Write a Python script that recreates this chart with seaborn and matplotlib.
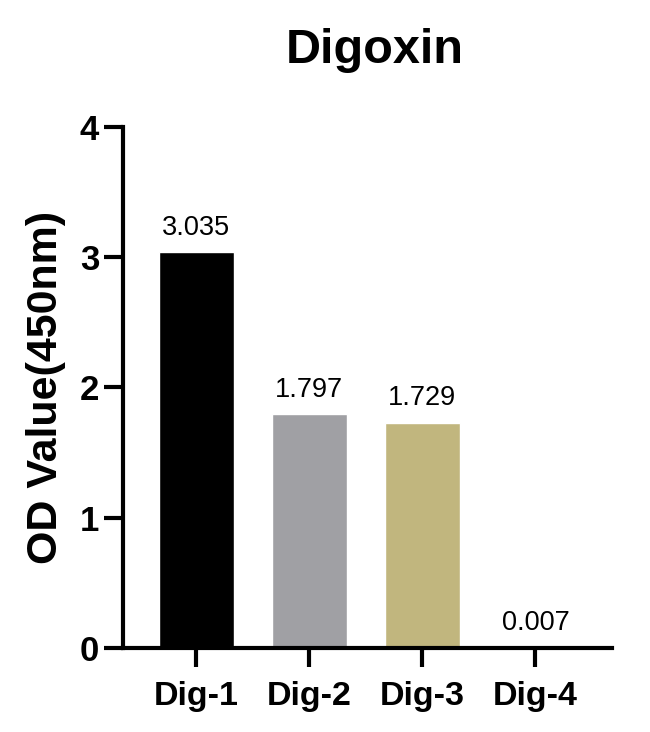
import matplotlib
matplotlib.use("Agg")
import matplotlib.pyplot as plt
import seaborn as sns
import pandas as pd

# values
groups = ["Dig-1", "Dig-2", "Dig-3", "Dig-4"]
od_values = [3.035, 1.797, 1.729, 0.007]
bar_colors = ["#000000", "#a0a0a4", "#c1b67e", "#8c8c8c"]
value_labels = ["3.035", "1.797", "1.729", "0.007"]
y_ticks = [0, 1, 2, 3, 4]

df = pd.DataFrame({"group": groups, "od": od_values})

sns.set_style("ticks")
plt.rcParams["font.family"] = ["Liberation Sans", "DejaVu Sans"]
plt.rcParams["text.color"] = "black"
plt.rcParams["axes.labelcolor"] = "black"
plt.rcParams["xtick.color"] = "black"
plt.rcParams["ytick.color"] = "black"

fig = plt.figure(figsize=(6.5, 7.32), dpi=100)
ax = fig.add_axes([0.189, 0.115, 0.753, 0.712])

sns.barplot(data=df, x="group", y="od", hue="group", palette=bar_colors,
            width=0.66, legend=False, ax=ax, saturation=1)

for cont, lab in zip(ax.containers, value_labels):
    ax.bar_label(cont, labels=[lab], padding=8, fontsize=19.5, color="black")

ax.set_ylim(0, 4)
ax.set_xlim(-0.65, 3.68)
ax.set_yticks(y_ticks)
ax.set_yticklabels([str(t) for t in y_ticks], fontsize=25, fontweight="bold")
ax.set_xticks(range(len(groups)))
ax.set_xticklabels(groups, fontsize=24.5, fontweight="bold")

ax.set_xlabel("")
ax.set_ylabel("OD Value(450nm)", fontsize=31, fontweight="bold", labelpad=10)
ax.set_title("Digoxin", fontsize=35, fontweight="bold", pad=46, x=0.515)

sns.despine(ax=ax)
for side in ["left", "bottom"]:
    ax.spines[side].set_linewidth(3)
    ax.spines[side].set_color("black")
ax.tick_params(axis="both", width=3, length=14, color="black", direction="out")
ax.tick_params(axis="y", pad=3)
ax.tick_params(axis="x", pad=10)

plt.savefig("out.png", dpi=100)
